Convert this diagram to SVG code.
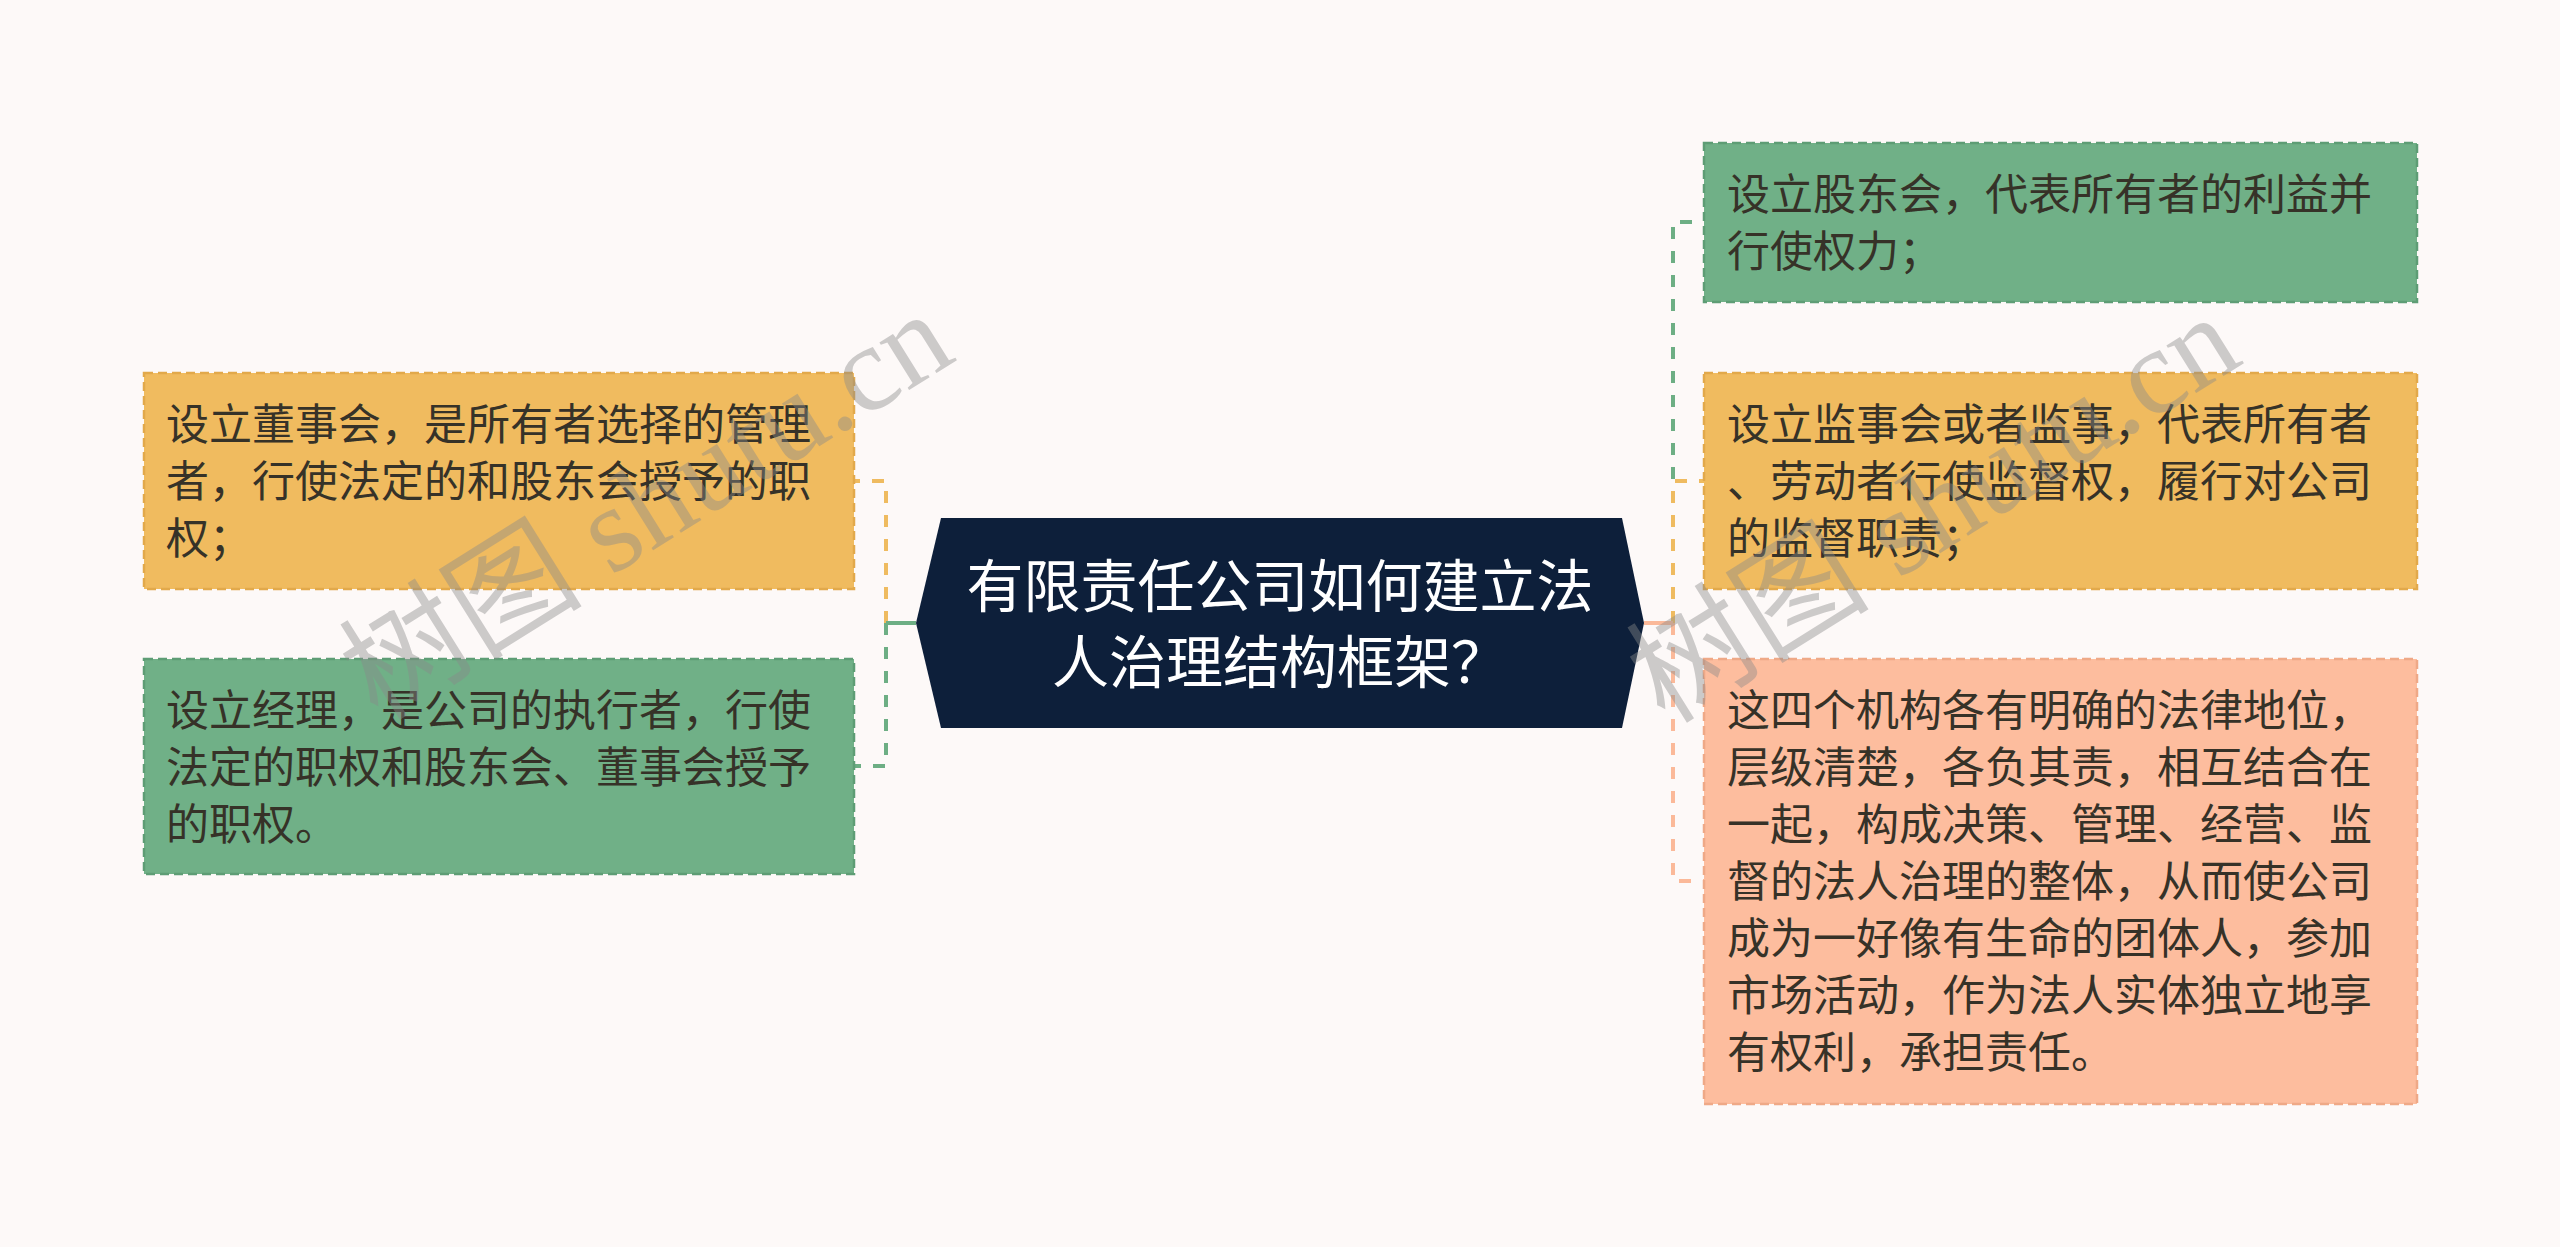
<svg xmlns="http://www.w3.org/2000/svg" width="2560" height="1247" viewBox="0 0 2560 1247">
<style>
.bg{fill:#fdf9f8}
.box{stroke-width:2.5;stroke-dasharray:9 5}
.y{fill:#f0bb5f;stroke:#e2a94b}
.g{fill:#70b087;stroke:#5e9d75}
.s{fill:#fdbd9e;stroke:#efa987}
.t{font-family:"Noto Sans CJK SC","Noto Sans",sans-serif;font-size:43px;fill:#363228}
.ct{font-family:"Noto Sans CJK SC","Noto Sans",sans-serif;font-size:57px;fill:#ffffff;text-anchor:middle}
.c{fill:none;stroke-width:4}
.d{stroke-dasharray:12 12}
.cy{stroke:#efbb60}
.cg{stroke:#6dae84}
.cs{stroke:#fbb999}
.wm{font-family:"Liberation Serif","Noto Sans CJK SC",serif;font-size:122px;fill:#8a8a8a;opacity:0.42}
</style>
<rect class="bg" x="0" y="0" width="2560" height="1247"/>
<g id="connectors">
<path class="c d cy" d="M886,623 V481 H854"/>
<path class="c d cg" d="M886,623 V766 H854"/>
<path class="c cy" d="M886,623 H916"/>
<path class="c cg" d="M886,623 H916"/>
<path class="c d cg" d="M1673,623 V222 H1704"/>
<path class="c d cy" d="M1673,623 V481 H1704"/>
<path class="c d cs" d="M1673,623 V881 H1704"/>
<path class="c cs" d="M1644,623 H1673"/>
</g>
<g id="root">
<polygon points="916,623 941,518 1622,518 1644,623 1622,728 941,728" fill="#0d1f3a"/>
<text class="ct" x="1280" y="607">有限责任公司如何建立法</text>
<text class="ct" x="1280" y="683">人治理结构框架？</text>
</g>
<g id="node-l1">
<rect class="box y" x="144" y="373" width="710" height="216"/>
<text class="t" x="166" y="440">设立董事会，是所有者选择的管理</text>
<text class="t" x="166" y="497">者，行使法定的和股东会授予的职</text>
<text class="t" x="166" y="554">权；</text>
</g>
<g id="node-l2">
<rect class="box g" x="144" y="659" width="710" height="215"/>
<text class="t" x="166" y="726">设立经理，是公司的执行者，行使</text>
<text class="t" x="166" y="783">法定的职权和股东会、董事会授予</text>
<text class="t" x="166" y="840">的职权。</text>
</g>
<g id="node-r1">
<rect class="box g" x="1704" y="143" width="713" height="159"/>
<text class="t" x="1727" y="210">设立股东会，代表所有者的利益并</text>
<text class="t" x="1727" y="267">行使权力；</text>
</g>
<g id="node-r2">
<rect class="box y" x="1704" y="373" width="713" height="216"/>
<text class="t" x="1727" y="440">设立监事会或者监事，代表所有者</text>
<text class="t" x="1727" y="497">、劳动者行使监督权，履行对公司</text>
<text class="t" x="1727" y="554">的监督职责；</text>
</g>
<g id="node-r3">
<rect class="box s" x="1704" y="659" width="713" height="445"/>
<text class="t" x="1727" y="726">这四个机构各有明确的法律地位，</text>
<text class="t" x="1727" y="783">层级清楚，各负其责，相互结合在</text>
<text class="t" x="1727" y="840">一起，构成决策、管理、经营、监</text>
<text class="t" x="1727" y="897">督的法人治理的整体，从而使公司</text>
<text class="t" x="1727" y="954">成为一好像有生命的团体人，参加</text>
<text class="t" x="1727" y="1011">市场活动，作为法人实体独立地享</text>
<text class="t" x="1727" y="1068">有权利，承担责任。</text>
</g>
<g id="watermarks">
<text class="wm" transform="translate(378,722) rotate(-32)">树图 shutu.cn</text>
<text class="wm" transform="translate(1665,725) rotate(-32)">树图 shutu.cn</text>
</g>
</svg>
